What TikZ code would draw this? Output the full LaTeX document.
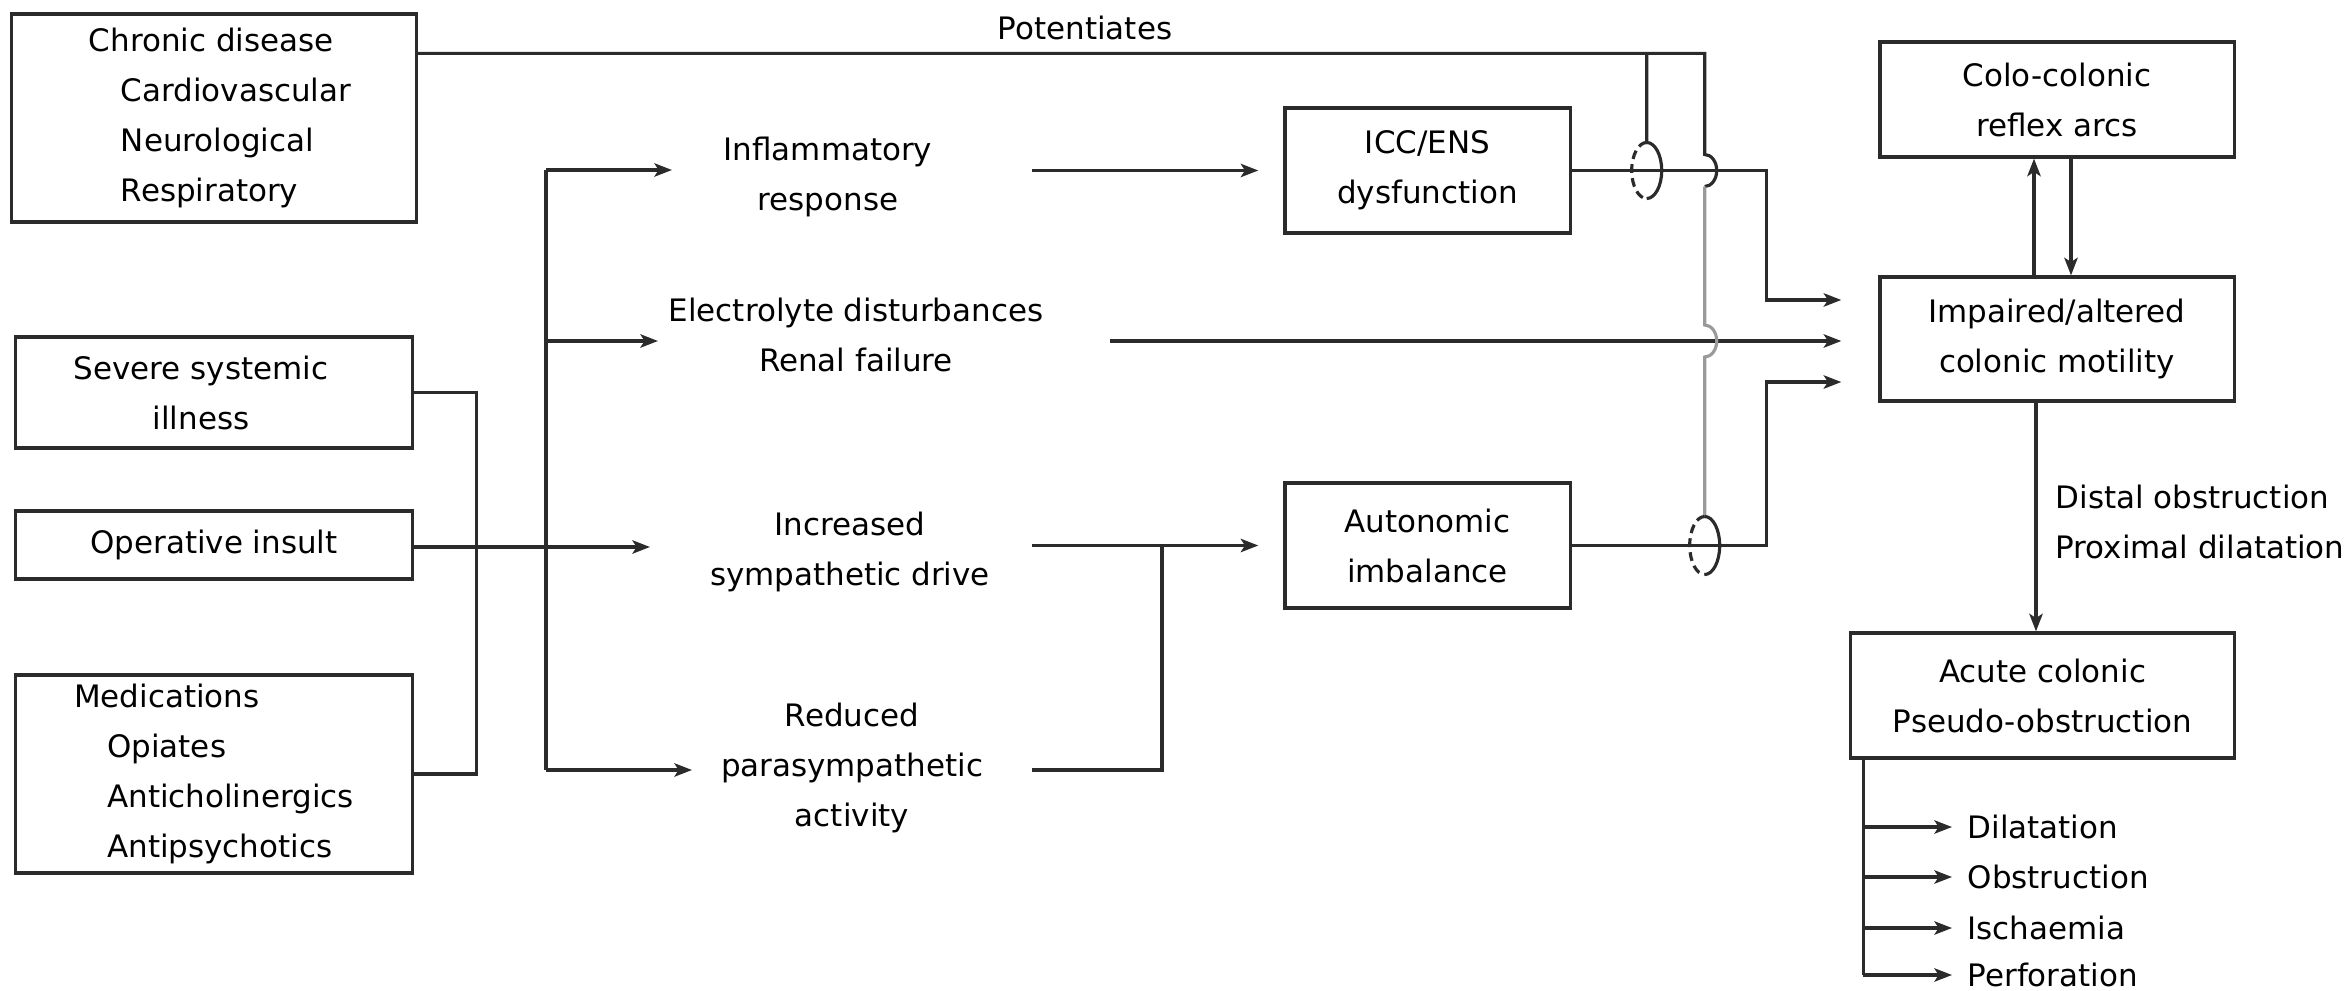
\documentclass[tikz,border=0pt]{standalone}
\usepackage{fontspec}
\setmainfont{DejaVu Sans}
\usetikzlibrary{arrows.meta,positioning,calc}
\definecolor{clinea}{HTML}{2B2B2B}
\definecolor{cgrisl}{HTML}{9A9A9A}
\newcommand{\fuente}{\fontsize{8.8}{14.2}\selectfont}
\tikzset{
  caja/.style={draw=clinea,line width=0.9pt,align=center,inner sep=0pt,font=\fuente},
  et/.style={font=\fuente,inner sep=0pt,align=center},
  linea/.style={draw=clinea,line width=0.9pt},
  lineag/.style={draw=cgrisl,line width=0.9pt},
  flecha/.style={linea,-{Stealth[length=5pt,width=3.8pt,inset=1.2pt]}},
  lazo/.style={linea,dash pattern=on 2.5pt off 1.5pt},
}
\begin{document}
\begin{tikzpicture}[x=0.01cm,y=-0.01cm]
\useasboundingbox (0,0) rectangle (2351,991);

% causas
\node[caja,minimum width=4.04cm,minimum height=2.08cm,align=left] (cronica) at (214,118)
  {\hspace*{1.2mm}Chronic disease\\\hspace*{4.4mm}Cardiovascular\\\hspace*{4.4mm}Neurological\\\hspace*{4.4mm}Respiratory};
\node[caja,minimum width=3.96cm,minimum height=1.11cm] (sistemica) at (214,392.5)
  {Severe systemic\hspace*{2.6mm}\\illness\hspace*{2.6mm}};
\node[caja,minimum width=3.96cm,minimum height=0.68cm] (operatoria) at (214,545) {Operative insult};
\node[caja,minimum width=3.96cm,minimum height=1.98cm,align=left] (farmacos) at (214,774)
  {Medications\\\hspace*{3.3mm}Opiates\\\hspace*{3.3mm}Anticholinergics\\\hspace*{3.3mm}Antipsychotics};

% mecanismos
\node[et] (potencia) at (1085,28) {Potentiates};
\node[et] (inflam) at (828,177) {Inflammatory\\response};
\node[et] (electro) at (856,335) {Electrolyte disturbances\\Renal failure};
\node[et] (simpat) at (850,552) {Increased\\sympathetic drive};
\node[et] (parasimp) at (852,768) {Reduced\\parasympathetic\\activity};
\node[caja,minimum width=2.85cm,minimum height=1.25cm] (icc) at (1427.5,170.5) {ICC/ENS\\dysfunction};
\node[caja,minimum width=2.85cm,minimum height=1.25cm] (autonom) at (1427.5,545.5) {Autonomic\\imbalance};

% colon
\node[caja,minimum width=3.54cm,minimum height=1.15cm] (reflejo) at (2057,99.5) {Colo-colonic\\reflex arcs};
\node[caja,minimum width=3.54cm,minimum height=1.24cm] (motil) at (2057,339) {Impaired/altered\\colonic motility};
\node[caja,minimum width=3.83cm,minimum height=1.25cm] (pseudo) at (2042.5,695.5) {Acute colonic\\Pseudo-obstruction};
\node[et,align=left,anchor=west] (distal) at (2055,522) {Distal obstruction\\Proximal dilatation};
\node[et,anchor=west] (dil) at (1967,827) {Dilatation};
\node[et,anchor=west] (obs) at (1967,877) {Obstruction};
\node[et,anchor=west] (isq) at (1967,928) {Ischaemia};
\node[et,anchor=west] (perf) at (1967,975) {Perforation};

% puntos de union
\coordinate (bsup) at (546,170);
\coordinate (binf) at (546,770);
\coordinate (pinf) at (672,170);
\coordinate (pele) at (658,341);
\coordinate (psim) at (650,547);
\coordinate (ppar) at (692,770);
\coordinate (sinf) at (1032,170.5);
\coordinate (sele) at (1110,341);
\coordinate (ssim) at (1032,545.5);
\coordinate (spar) at (1032,770);
\coordinate (jpar) at (1162,545.5);
\coordinate (cpot) at ([yshift=-0.41cm]cronica.north east);
\coordinate (bpot) at ($(cpot)+(1229,0)$);
\coordinate (rpot) at ($(cpot)+(1287,0)$);
\coordinate (lazo1) at (bpot |- icc.east);
\coordinate (s1) at (rpot |- icc.east);
\coordinate (s2) at (rpot |- sele);
\coordinate (lazo2) at (rpot |- autonom.east);
\coordinate (mbaja) at ([xshift=-2.1mm]motil.south);
\coordinate (tronco) at ([xshift=1.4mm]pseudo.south west);

% conexiones izquierda
\draw[linea] (sistemica.east) -- ++(63,0) |- (farmacos.east);
\draw[flecha] (operatoria.east |- psim) -- (psim);
\draw[linea] (bsup) -- (binf);
\draw[flecha] (bsup) -- (pinf);
\draw[flecha] (bsup |- pele) -- (pele);
\draw[flecha] (binf) -- (ppar);

% conexiones centro
\draw[flecha,shorten >=2.5mm] (sinf) -- (icc.west);
\draw[flecha,shorten >=3.7mm] (sele) -- (sele -| motil.west);
\draw[flecha,shorten >=2.5mm] (ssim) -- (autonom.west);
\draw[linea] (spar) -| (jpar);
\draw[flecha,shorten >=3.7mm] (icc.east) -- ++(195,0) |- ([yshift=0.39cm]motil.west);
\draw[flecha,shorten >=3.7mm] (autonom.east) -- ++(195,0) |- ([yshift=-0.43cm]motil.west);

% potencia
\draw[linea] (cpot) -- (rpot) -- ([yshift=1.6mm]s1)
  arc[start angle=90,end angle=-90,x radius=1.2mm,y radius=1.6mm];
\draw[linea] (bpot) -- ([yshift=2.8mm]lazo1)
  arc[start angle=90,end angle=-90,x radius=1.5mm,y radius=2.8mm];
\draw[lazo] ([yshift=2.8mm]lazo1) arc[start angle=90,end angle=270,x radius=1.5mm,y radius=2.8mm];
\draw[lineag] ([yshift=-1.6mm]s1) -- ([yshift=1.6mm]s2)
  arc[start angle=90,end angle=-90,x radius=1.2mm,y radius=1.6mm] -- ([yshift=2.9mm]lazo2);
\draw[linea] ([yshift=2.9mm]lazo2) arc[start angle=90,end angle=-90,x radius=1.5mm,y radius=2.9mm];
\draw[lazo] ([yshift=2.9mm]lazo2) arc[start angle=90,end angle=270,x radius=1.5mm,y radius=2.9mm];

% colon
\draw[flecha] ([xshift=-2.3mm]motil.north) -- ([xshift=-2.3mm]reflejo.south);
\draw[flecha] ([xshift=1.4mm]reflejo.south) -- ([xshift=1.4mm]motil.north);
\draw[flecha] (mbaja) -- (mbaja |- pseudo.north);
\draw[linea] (tronco) -- (tronco |- perf.west);
\draw[flecha,shorten >=1.5mm] (tronco |- dil.west) -- (dil.west);
\draw[flecha,shorten >=1.5mm] (tronco |- obs.west) -- (obs.west);
\draw[flecha,shorten >=1.5mm] (tronco |- isq.west) -- (isq.west);
\draw[flecha,shorten >=1.5mm] (tronco |- perf.west) -- (perf.west);

\end{tikzpicture}
\end{document}
